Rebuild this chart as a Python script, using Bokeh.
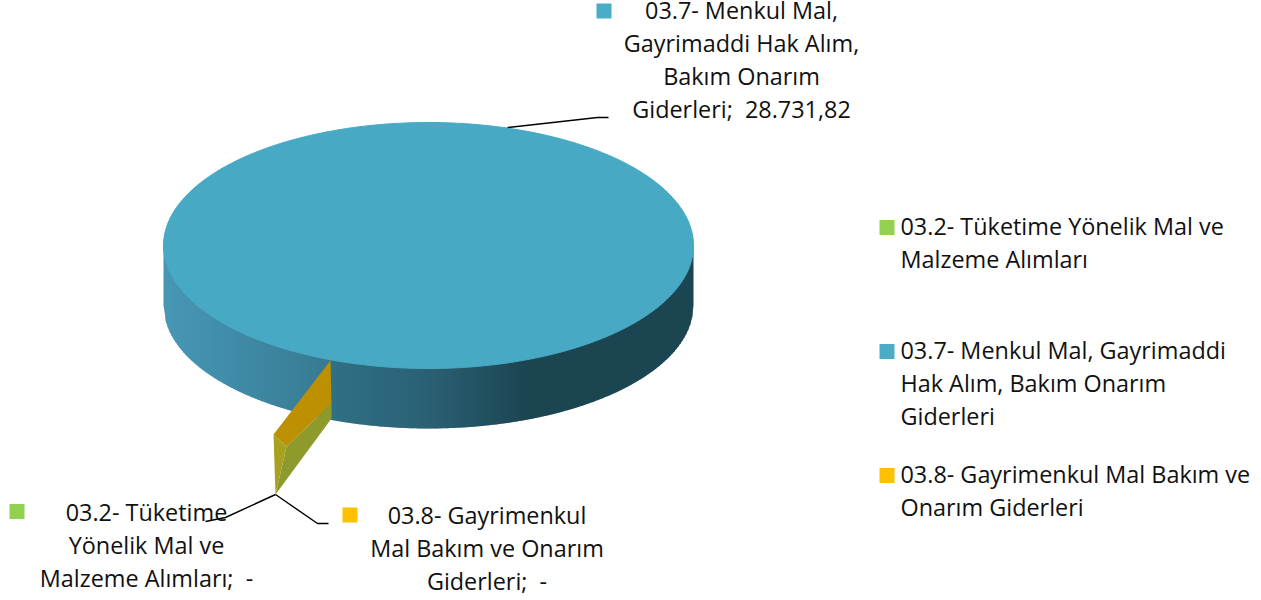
from bokeh.plotting import figure
from bokeh.embed import file_html
from bokeh.resources import INLINE
from bokeh.core.properties import value
import numpy as np

# Data
codes = ["03.2", "03.7", "03.8"]
series_values = [0.0, 28731.82, 0.0]
value_labels = ["-", "28.731,82", "-"]
point_labels = [
    ["03.2- Tüketime", "Yönelik Mal ve", "Malzeme Alımları; \u00a0-"],
    ["03.7- Menkul Mal,", "Gayrimaddi Hak Alım,", "Bakım Onarım", "Giderleri; \u00a028.731,82"],
    ["03.8- Gayrimenkul", "Mal Bakım ve Onarım", "Giderleri; \u00a0-"],
]
legend_labels = [
    ["03.2- Tüketime Yönelik Mal ve", "Malzeme Alımları"],
    ["03.7- Menkul Mal, Gayrimaddi", "Hak Alım, Bakım Onarım", "Giderleri"],
    ["03.8- Gayrimenkul Mal Bakım ve", "Onarım Giderleri"],
]
colors = ["#92D050", "#4BACC6", "#FFC000"]

# Layout / style
W, H = 1261, 600
FONT = "Open Sans"
FS = "23.4px"
LH = 33
TEXT_DY = -1.5
cx, cy, rx, ry, depth = 428, 245, 265, 123, 60
top_color = "#47A9C4"
grad_x = [163, 230, 329, 331, 430, 525, 693]
grad_rgb = [(0x47, 0x97, 0xB5), (0x40, 0x8C, 0xA8), (0x37, 0x7A, 0x92),
            (0x30, 0x70, 0x84), (0x2A, 0x60, 0x74), (0x1C, 0x45, 0x52), (0x1C, 0x45, 0x52)]

p = figure(width=W, height=H, x_range=(0, W), y_range=(H, 0), output_backend="svg",
           toolbar_location=None, min_border=0, outline_line_color=None,
           margin=0, x_axis_type=None, y_axis_type=None,
           background_fill_color="white", border_fill_color="white")
p.grid.visible = False


def lab(xs, ys, texts, align):
    p.text(xs, [y + TEXT_DY for y in ys], text=texts, text_font=value(FONT), text_font_size=FS,
           text_color="#111111", text_align=align, text_baseline="middle")


# Pie side: shaded strips along the rim
edges = np.arange(cx - rx, cx + rx + 1.0, 2.0)
sxs, sys, scol = [], [], []
for a, b in zip(edges[:-1], edges[1:]):
    b2 = min(b + 1, cx + rx)
    ua, ub = (a - cx) / rx, (b2 - cx) / rx
    ya = cy + ry * np.sqrt(max(0, 1 - ua ** 2))
    yb = cy + ry * np.sqrt(max(0, 1 - ub ** 2))
    sxs.append([a, b2, b2, a])
    sys.append([ya - 3, yb - 3, yb + depth, ya + depth])
    m = (a + b) / 2
    c = [np.interp(m, grad_x, [g[i] for g in grad_rgb]) for i in range(3)]
    scol.append("#%02x%02x%02x" % tuple(int(round(v)) for v in c))
p.patches(sxs, sys, fill_color=scol, line_color=None)

# Pie top: the one non-zero share fills the whole disc
total = sum(series_values)
for v, c in zip(series_values, colors):
    if v > 0:
        th = np.linspace(0, 2 * np.pi * v / total, 361)
        p.patch(cx + rx * np.cos(th), cy + ry * np.sin(th), fill_color=top_color,
                line_color=top_color, line_width=1)

# Zero-value slices, pulled out of the pie
ax, ay = 330, 360
p.patch([ax, ax - 57, ax - 44, ax + 1], [ay, ay + 74, ay + 86, ay + 43], fill_color="#BC9000", line_color=None)
p.patch([ax - 44, ax + 1, ax + 1, ax - 55], [ay + 86, ay + 43, ay + 58, ay + 134], fill_color="#8E9A2C", line_color=None)
p.patch([ax - 57, ax - 44, ax - 55], [ay + 74, ay + 86, ay + 134], fill_color="#A8A01E", line_color=None)

# Leader lines
p.line([507, 597, 608], [127, 117, 117], line_color="black", line_width=1.4)
p.line([275, 225, 205], [494, 517, 521], line_color="black", line_width=1.4)
p.line([275, 317, 328], [494, 523, 523], line_color="black", line_width=1.4)

# Data labels
centers = [146, 741, 486.5]
tops = [513, 11, 516]
marks = [(16.5, 511), (603.5, 10.5), (349.5, 514.5)]
for i in range(3):
    ls = point_labels[i]
    lab([centers[i]] * len(ls), [tops[i] + LH * k for k in range(len(ls))], ls, "center")
    p.scatter([marks[i][0]], [marks[i][1]], marker="square", size=15, fill_color=colors[i], line_color=None)

# Legend
leg_tops = [227, 351, 475]
for i in range(3):
    ls = legend_labels[i]
    lab([900] * len(ls), [leg_tops[i] + LH * k for k in range(len(ls))], ls, "left")
    p.scatter([886.5], [leg_tops[i]], marker="square", size=15, fill_color=colors[i], line_color=None)

open("out.html", "w").write(file_html(p, INLINE))
